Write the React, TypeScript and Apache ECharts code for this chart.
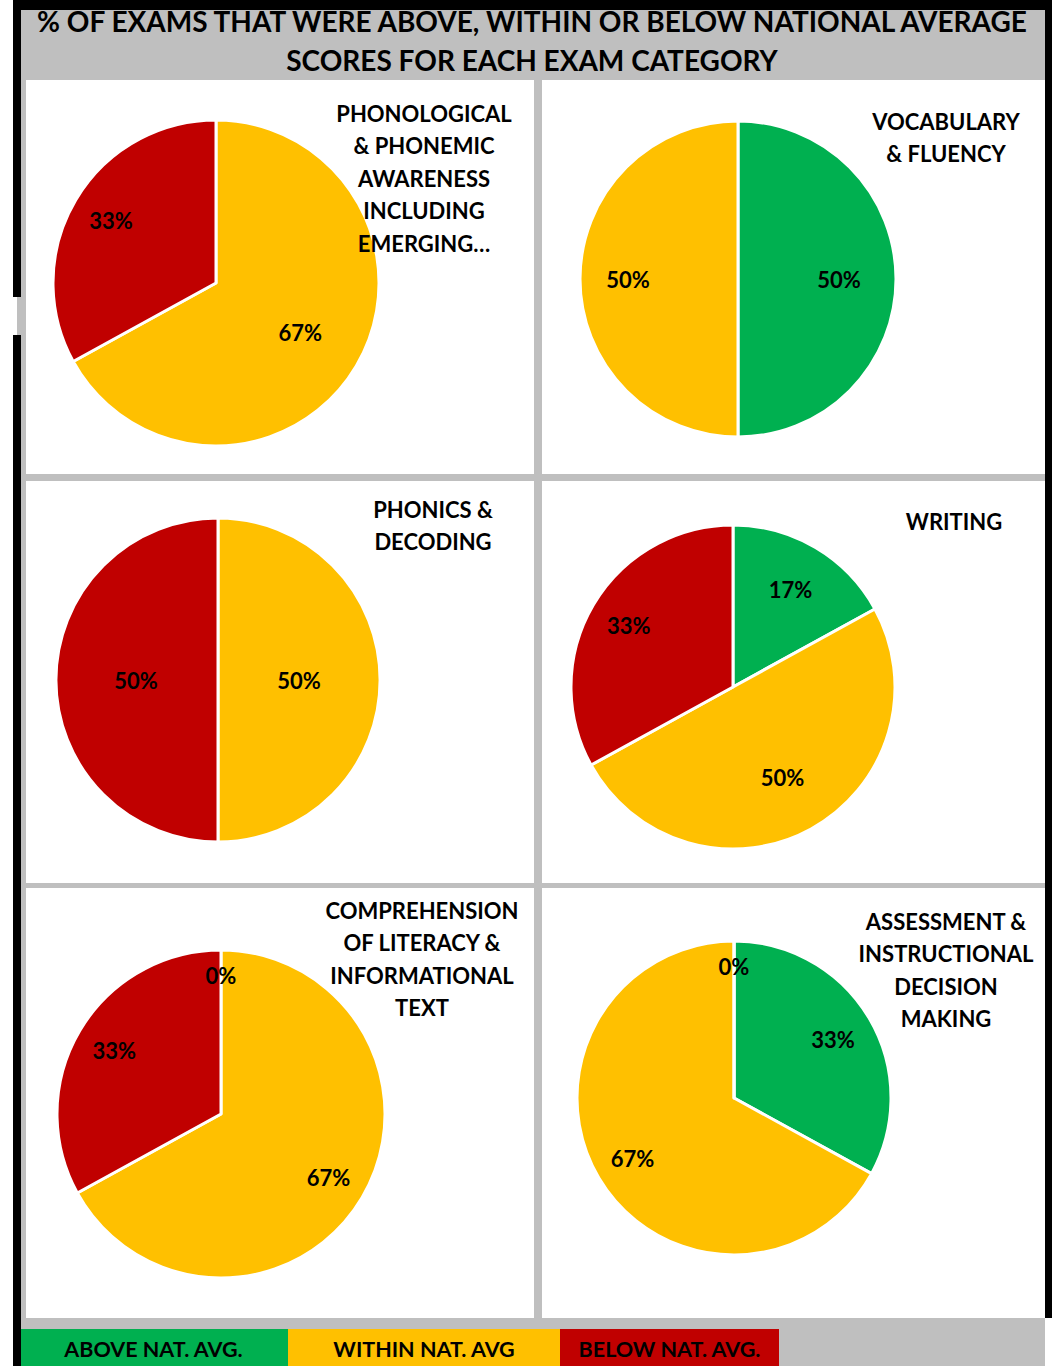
import React, { useEffect, useRef } from 'react';
import * as echarts from 'echarts';

// ---------- data ----------
const categories = ['ABOVE NAT. AVG.', 'WITHIN NAT. AVG', 'BELOW NAT. AVG.'];
const chartTitleLines = [
  '% OF EXAMS THAT WERE ABOVE, WITHIN OR BELOW NATIONAL AVERAGE',
  'SCORES FOR EACH EXAM CATEGORY',
];
const panelTitles = [
  'PHONOLOGICAL\n& PHONEMIC\nAWARENESS\nINCLUDING\nEMERGING…',
  'VOCABULARY\n& FLUENCY',
  'PHONICS &\nDECODING',
  'WRITING',
  'COMPREHENSION\nOF LITERACY &\nINFORMATIONAL\nTEXT',
  'ASSESSMENT &\nINSTRUCTIONAL\nDECISION\nMAKING',
];
// values per category: [above, within, below]; null = not present
const phonologicalValues = [null, 67, 33];
const vocabularyValues = [50, 50, null];
const phonicsValues = [null, 50, 50];
const writingValues = [17, 50, 33];
const comprehensionValues = [0, 67, 33];
const assessmentValues = [33, 67, 0];
const panelValues = [
  phonologicalValues,
  vocabularyValues,
  phonicsValues,
  writingValues,
  comprehensionValues,
  assessmentValues,
];

// ---------- layout / style ----------
const COLORS = ['#00B050', '#FFC000', '#C00000'];
const GRAY = '#BFBFBF';
const FONT = 'Lato, "Noto Sans", sans-serif';
const panelRects = [
  [26, 80, 508, 394],
  [542, 80, 503, 394],
  [26, 481, 508, 402],
  [542, 481, 503, 402],
  [26, 888, 508, 430],
  [542, 888, 503, 430],
];
const pieCenters = [
  [216, 283],
  [738, 279],
  [218, 680],
  [733, 687],
  [221, 1114],
  [734, 1098],
];
const pieRadii = [163, 158, 162, 162, 164, 157];
const labelDist = [
  [0, 98, 122],
  [101, 110, 0],
  [0, 81, 82],
  [113, 103, 121],
  [139, 125, 124],
  [115, 118, 132],
];
const titlePos = [
  [424, 113],
  [946, 121],
  [433, 509],
  [954, 521],
  [422, 910],
  [946, 921],
];
const legendRects = [
  [21, 288],
  [288, 560],
  [560, 779],
];

function buildOption() {
  const series: any[] = [];
  panelValues.forEach((vals, p) => {
    const items = vals
      .map((v, i) => ({ v, i }))
      .filter((d) => d.v !== null) as { v: number; i: number }[];
    series.push({
      type: 'pie',
      z: 2,
      silent: true,
      center: pieCenters[p],
      radius: pieRadii[p],
      startAngle: 90,
      clockwise: true,
      label: { show: false },
      labelLine: { show: false },
      emphasis: { disabled: true },
      itemStyle: { borderColor: '#FFFFFF', borderWidth: 3 },
      data: items.map((d) => ({
        name: categories[d.i],
        value: d.v,
        itemStyle: { color: COLORS[d.i] },
      })),
    });
    // one transparent label pie per item so each label sits at its own distance
    items.forEach((target) => {
      const dist = labelDist[p][target.i];
      series.push({
        type: 'pie',
        z: 4,
        silent: true,
        center: pieCenters[p],
        radius: [0, 2 * (dist - 3)],
        startAngle: 90,
        clockwise: true,
        minShowLabelAngle: 0,
        labelLine: { show: false },
        emphasis: { disabled: true },
        itemStyle: { color: 'rgba(0,0,0,0)', borderWidth: 0 },
        data: items.map((d) => ({
          name: categories[d.i],
          value: d.v,
          label: {
            show: d.i === target.i,
            position: 'inside',
            formatter: (pr: any) => pr.value + '%',
            color: '#000000',
            fontFamily: FONT,
            fontWeight: 'bold',
            fontSize: 22,
          },
        })),
      });
    });
  });

  const graphics: any[] = [];
  // frame
  graphics.push({ type: 'rect', z: 0, shape: { x: 13, y: 0, width: 1039, height: 1318 }, style: { fill: '#000000' } });
  graphics.push({ type: 'rect', z: 0, shape: { x: 13, y: 1318, width: 8, height: 48 }, style: { fill: '#000000' } });
  graphics.push({ type: 'rect', z: 1, shape: { x: 21, y: 10, width: 1024, height: 1356 }, style: { fill: GRAY } });
  graphics.push({ type: 'rect', z: 1, shape: { x: 13, y: 297, width: 4, height: 38 }, style: { fill: '#FFFFFF' } });
  graphics.push({ type: 'rect', z: 1, shape: { x: 17, y: 297, width: 4, height: 38 }, style: { fill: GRAY } });
  // panels
  panelRects.forEach((r) => {
    graphics.push({ type: 'rect', z: 1, shape: { x: r[0], y: r[1], width: r[2], height: r[3] }, style: { fill: '#FFFFFF' } });
  });
  // chart title
  chartTitleLines.forEach((t, i) => {
    graphics.push({
      type: 'text',
      z: 5,
      x: 532,
      y: i === 0 ? 21 : 60,
      scaleX: 1.0,
      style: {
        text: t,
        x: 0,
        y: 0,
        align: 'center',
        verticalAlign: 'middle',
        font: `bold 28px ${FONT}`,
        fill: '#000000',
      },
    });
  });
  // panel titles
  panelTitles.forEach((t, p) => {
    graphics.push({
      type: 'text',
      z: 100,
      x: titlePos[p][0],
      y: titlePos[p][1] - 16.25,
      style: {
        text: t,
        x: 0,
        y: 0,
        align: 'center',
        verticalAlign: 'top',
        lineHeight: 32.5,
        font: `bold 22px ${FONT}`,
        fill: '#000000',
      },
    });
  });
  // legend
  legendRects.forEach((lr, i) => {
    graphics.push({ type: 'rect', z: 2, shape: { x: lr[0], y: 1329, width: lr[1] - lr[0], height: 37 }, style: { fill: COLORS[i] } });
    graphics.push({
      type: 'text',
      z: 5,
      x: (lr[0] + lr[1]) / 2 + (i === 0 ? -1 : 0),
      y: 1349,
      style: {
        text: categories[i],
        x: 0,
        y: 0,
        align: 'center',
        verticalAlign: 'middle',
        font: `bold 21.5px ${FONT}`,
        fill: '#000000',
      },
    });
  });

  return {
    animation: false,
    backgroundColor: '#FFFFFF',
    graphic: { elements: graphics },
    series,
  };
}

export default function App() {
  const ref = useRef<HTMLDivElement>(null);
  useEffect(() => {
    if (!ref.current) return;
    const chart = echarts.init(ref.current, undefined, { renderer: 'svg' });
    chart.setOption(buildOption() as any);
    return () => chart.dispose();
  }, []);
  return (
    <div
      ref={ref}
      style={{ position: 'absolute', left: 0, top: 0, width: 1057, height: 1366 }}
    />
  );
}
